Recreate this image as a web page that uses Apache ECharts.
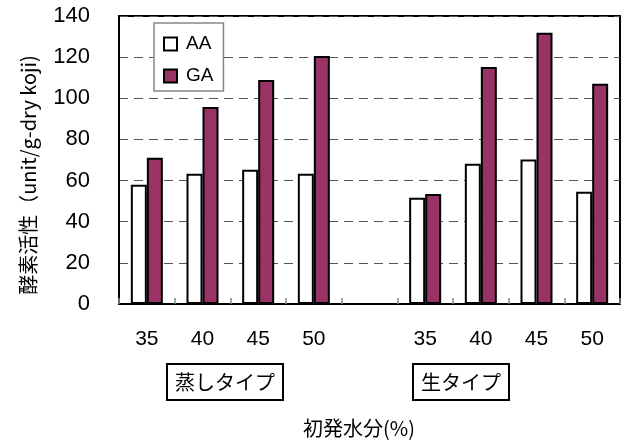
<!DOCTYPE html>
<html>
<head>
<meta charset="utf-8">
<script src="https://cdn.jsdelivr.net/npm/echarts@6/dist/echarts.min.js"></script>
<style>
  html, body { margin: 0; padding: 0; background: #fff; }
  #chart { width: 628px; height: 443px; }
</style>
</head>
<body>
<div id="chart"></div>
<script>
// Initial moisture (%) per koji type; the empty slot separates the two groups
const categories = ['35', '40', '45', '50', '', '35', '40', '45', '50'];
// Enzyme activity (unit/g-dry koji)
const aaValues = [58, 63.3, 65.3, 63.3, null, 51.7, 68.2, 70.2, 54.6];
const gaValues = [71.1, 95.8, 108.9, 120.6, null, 53.5, 115.2, 131.9, 107.1];
const seriesNames = ['AA', 'GA'];
const groupLabels = ['蒸しタイプ', '生タイプ'];
const yTitle = '酵素活性（unit/g-dry koji)';
const xTitle = '初発水分(%)';
const yTicks = { min: 0, max: 140, interval: 20 };

const JP_FONT = '"Noto Sans CJK JP", sans-serif';
const NUM_FONT = '"Liberation Sans", "Noto Sans CJK JP", sans-serif';

const chart = echarts.init(document.getElementById('chart'), null, { renderer: 'canvas' });

chart.setOption({
  animation: false,
  backgroundColor: '#fff',
  textStyle: { fontFamily: NUM_FONT, color: '#000' },
  grid: {
    left: 119, top: 16, right: 8, bottom: 139,
    show: true, borderColor: '#000', borderWidth: 2, backgroundColor: 'transparent'
  },
  legend: {
    orient: 'vertical',
    left: 154, top: 23,
    data: seriesNames,
    icon: 'rect',
    itemWidth: 13, itemHeight: 13, itemGap: 12,
    padding: [11, 10, 5, 9],
    borderColor: '#888', borderWidth: 1.5,
    backgroundColor: '#fff',
    textStyle: { fontSize: 19, lineHeight: 20, color: '#000', fontFamily: NUM_FONT, padding: [0, 0, 0, 4] }
  },
  xAxis: {
    type: 'category',
    data: categories,
    axisLine: { lineStyle: { color: '#000', width: 2 } },
    axisTick: { show: true, inside: true, length: 6, lineStyle: { color: '#888', width: 1.5 } },
    axisLabel: { fontSize: 21, color: '#000', margin: 25, fontFamily: NUM_FONT, interval: 0 },
    splitLine: { show: false }
  },
  yAxis: {
    type: 'value',
    min: yTicks.min, max: yTicks.max, interval: yTicks.interval,
    axisLine: { show: true, lineStyle: { color: '#000', width: 2 } },
    axisTick: { show: false },
    axisLabel: { fontSize: 22, color: '#000', margin: 29, fontFamily: NUM_FONT },
    splitLine: { show: true, lineStyle: { color: '#555', width: 1.2, type: [9, 6] } }
  },
  series: [
    {
      name: seriesNames[0],
      type: 'bar',
      data: aaValues,
      barWidth: 16,
      barGap: '0%',
      itemStyle: { color: '#fff', borderColor: '#000', borderWidth: 2 }
    },
    {
      name: seriesNames[1],
      type: 'bar',
      data: gaValues,
      barWidth: 16,
      barGap: '0%',
      itemStyle: { color: '#993366', borderColor: '#000', borderWidth: 2 }
    }
  ],
  graphic: [
    {
      // vertical axis title, reading bottom to top
      type: 'text', x: 28, y: 175, rotation: Math.PI / 2,
      style: {
        text: yTitle, font: '20px ' + JP_FONT, fill: '#000',
        textAlign: 'center', textVerticalAlign: 'middle'
      }
    },
    {
      type: 'text', left: 166, top: 363,
      style: {
        text: groupLabels[0], font: '20px ' + JP_FONT, fill: '#000',
        borderColor: '#000', borderWidth: 2, padding: [7, 7, 7, 7], backgroundColor: '#fff'
      }
    },
    {
      type: 'text', left: 412, top: 363,
      style: {
        text: groupLabels[1], font: '20px ' + JP_FONT, fill: '#000',
        borderColor: '#000', borderWidth: 2, padding: [7, 7, 7, 7], backgroundColor: '#fff'
      }
    },
    {
      type: 'text', left: 303, top: 418,
      style: { text: xTitle, font: '20px ' + JP_FONT, fill: '#000' }
    }
  ]
});
</script>
</body>
</html>
